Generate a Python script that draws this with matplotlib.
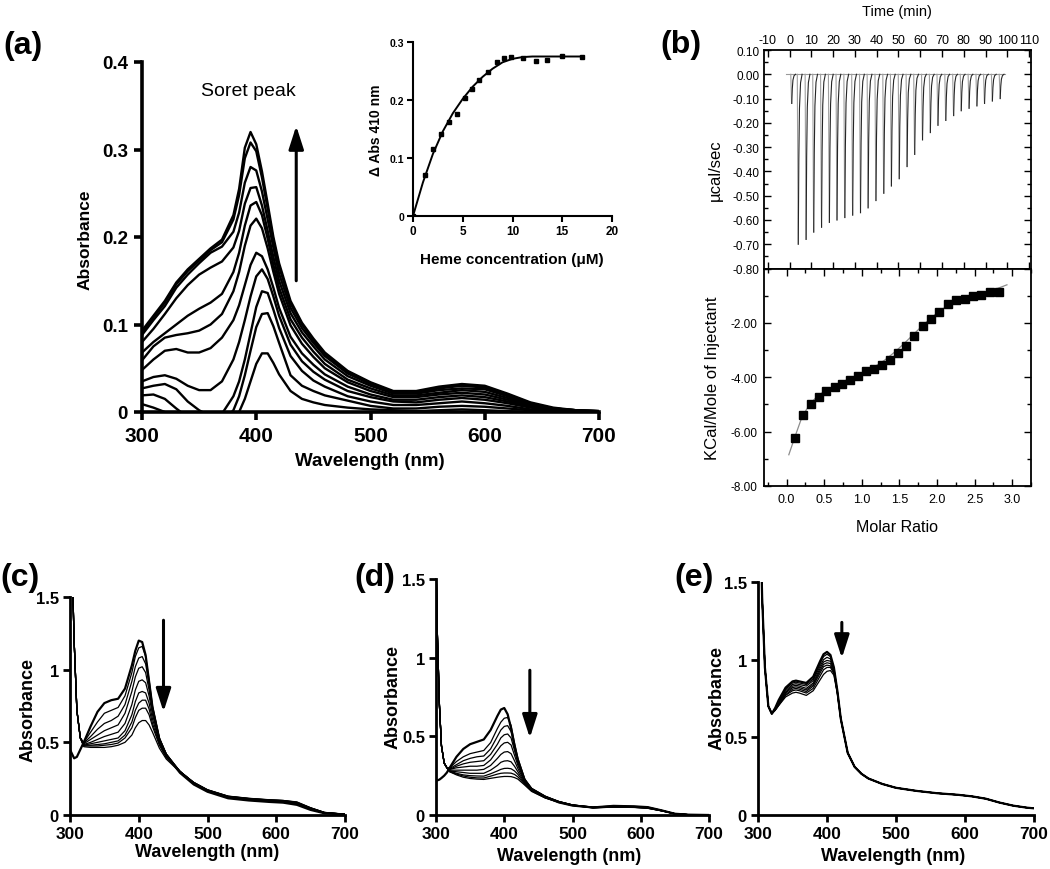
import matplotlib
matplotlib.use("Agg")
import matplotlib.pyplot as plt
from matplotlib.font_manager import FontProperties
from matplotlib.ticker import MultipleLocator

plt.rcParams['axes.unicode_minus'] = False

W, H = 1050, 870
NARROW = ['Liberation Sans Narrow', 'Liberation Sans', 'DejaVu Sans']
ARIAL = ['Liberation Sans', 'DejaVu Sans']

# ---------------- panel (a): heme titration spectra ----------------
wl_a = [300, 310, 320, 330, 340, 350, 360, 370, 380, 385, 390, 395, 400, 405, 410, 415, 420,
        430, 440, 450, 460, 480, 500, 520, 540, 560, 580, 600, 620, 640, 660, 680, 700]
a1 = [.093, .110, .127, .148, .163, .175, .187, .197, .225, .255, .302, .320, .306, .275, .238, .200, .170,
      .127, .102, .084, .068, .047, .034, .024, .024, .029, .032, .030, .021, .011, .005, .002, .001]
a2 = [.091, .108, .125, .146, .161, .173, .185, .194, .220, .248, .290, .308, .298, .268, .232, .196, .166,
      .124, .100, .082, .066, .046, .033, .023, .023, .028, .031, .029, .020, .010, .004, .002, .001]
a3 = [.088, .105, .121, .142, .157, .170, .182, .189, .206, .228, .262, .280, .276, .252, .220, .188, .158,
      .119, .096, .079, .064, .044, .032, .022, .022, .027, .030, .028, .019, .010, .004, .002, .001]
a4 = [.080, .095, .112, .130, .145, .157, .165, .172, .188, .207, .238, .256, .257, .236, .207, .177, .150,
      .113, .091, .075, .060, .041, .030, .021, .021, .025, .027, .026, .018, .009, .004, .002, .001]
a5 = [.068, .080, .090, .100, .110, .118, .125, .135, .160, .182, .213, .236, .240, .225, .198, .168, .142,
      .106, .085, .069, .055, .037, .027, .019, .019, .022, .025, .023, .016, .008, .003, .001, .000]
a6 = [.059, .075, .085, .088, .090, .093, .100, .112, .138, .160, .190, .213, .221, .210, .187, .160, .135,
      .099, .078, .063, .050, .034, .024, .017, .017, .020, .022, .020, .014, .007, .003, .001, .000]
a7 = [.048, .060, .070, .072, .068, .068, .073, .085, .105, .122, .145, .168, .182, .178, .163, .142, .119,
      .086, .067, .054, .043, .029, .020, .014, .014, .017, .019, .017, .012, .006, .002, .001, .000]
a8 = [.035, .040, .042, .038, .030, .025, .025, .035, .060, .080, .105, .132, .155, .163, .152, .132, .110,
      .077, .058, .046, .037, .024, .017, .012, .011, .014, .016, .014, .010, .005, .002, .001, .000]
a9 = [.027, .030, .032, .026, .012, .002, -.005, -.002, .018, .035, .060, .090, .120, .138, .136, .117, .096,
      .064, .047, .036, .029, .018, .012, .008, .008, .010, .012, .010, .007, .003, .001, .000, .000]
a10 = [.019, .020, .015, .004, -.006, -.012, -.015, -.012, .002, .018, .042, .070, .097, .112, .113, .098, .079,
       .042, .030, .024, .019, .013, .007, .004, .004, .006, .007, .006, .004, .002, .000, .000, .000]
a11 = [.009, .005, .000, -.008, -.015, -.020, -.022, -.020, -.010, .000, .015, .035, .055, .067, .067, .056, .043,
       .024, .015, .011, .008, .005, .003, .002, .001, .002, .003, .002, .001, .000, .000, .000, .000]
spectra_a = [a1, a2, a3, a4, a5, a6, a7, a8, a9, a10, a11]

# inset: delta A410 vs heme
heme_conc = [0, 1.2, 2.0, 2.8, 3.6, 4.4, 5.2, 5.9, 6.6, 7.5, 8.4, 9.1, 9.8, 11.1, 12.4, 13.5, 15.0, 17.0]
dabs_410 = [0.0, 0.070, 0.115, 0.141, 0.162, 0.176, 0.203, 0.219, 0.234, 0.249, 0.266, 0.273, 0.275,
            0.273, 0.267, 0.269, 0.276, 0.275]
fit_conc = [0, 1, 2, 3, 4, 5, 6, 7, 8, 9, 10, 11, 12, 14, 17]
fit_dabs = [0, 0.058, 0.107, 0.146, 0.177, 0.202, 0.223, 0.240, 0.254, 0.265, 0.271, 0.274, 0.275, 0.275, 0.275]

# ---------------- panel (b): ITC ----------------
inj_time = [0.5, 3.5, 7.1, 10.6, 14.2, 17.8, 21.3, 24.9, 28.5, 32.1, 35.6, 39.2, 42.8, 46.3, 49.9, 53.5,
            57.0, 60.6, 64.2, 67.7, 71.3, 74.9, 78.4, 82.0, 85.6, 89.1, 92.7, 96.3]
inj_peak = [-0.12, -0.70, -0.68, -0.65, -0.63, -0.61, -0.60, -0.59, -0.58, -0.57, -0.55, -0.52, -0.49,
            -0.46, -0.43, -0.38, -0.33, -0.27, -0.24, -0.21, -0.19, -0.17, -0.15, -0.14, -0.13, -0.12,
            -0.11, -0.10]
spike_dt = [0.0, 0.35, 0.45, 0.7, 1.0, 1.5, 2.2]
spike_frac = [0.0, 0.9, 1.0, 0.5, 0.2, 0.05, 0.0]
molar_ratio = [0.11, 0.22, 0.32, 0.43, 0.53, 0.64, 0.74, 0.85, 0.95, 1.06, 1.16, 1.27, 1.37, 1.48, 1.59,
               1.70, 1.81, 1.92, 2.03, 2.14, 2.25, 2.37, 2.48, 2.59, 2.71, 2.83]
kcal_mol = [-6.25, -5.38, -5.0, -4.72, -4.52, -4.35, -4.24, -4.10, -3.97, -3.76, -3.70, -3.54, -3.36,
            -3.10, -2.84, -2.48, -2.12, -1.84, -1.60, -1.31, -1.16, -1.12, -1.01, -0.98, -0.86, -0.87]
fit_ratio = [0.03, 0.11, 0.2, 0.3, 0.4, 0.5, 0.6, 0.7, 0.8, 0.9, 1.0, 1.1, 1.2, 1.3, 1.4, 1.5, 1.6, 1.7,
             1.8, 1.9, 2.0, 2.1, 2.2, 2.3, 2.4, 2.5, 2.6, 2.7, 2.8, 2.93]
fit_kcal = [-6.85, -6.2, -5.5, -5.02, -4.72, -4.52, -4.36, -4.22, -4.10, -3.98, -3.86, -3.72, -3.56,
            -3.38, -3.16, -2.92, -2.66, -2.39, -2.12, -1.87, -1.64, -1.44, -1.28, -1.17, -1.08, -1.0,
            -0.92, -0.83, -0.74, -0.60]

# ---------------- panel (c) ----------------
wl_c = [300, 303, 306, 310, 315, 320, 330, 340, 350, 360, 370, 380, 390, 395, 400, 405, 410, 415, 420,
        430, 440, 460, 480, 500, 530, 560, 590, 610, 630, 650, 670, 700]
c1 = [0.45, 0.42, 0.39, 0.40, 0.45, 0.50, 0.61, 0.71, 0.77, 0.79, 0.80, 0.87, 1.03, 1.13, 1.20, 1.19, 1.10,
      0.92, 0.74, 0.52, 0.41, 0.29, 0.21, 0.16, 0.115, 0.10, 0.09, 0.085, 0.07, 0.035, 0.012, 0.004]
c2 = [2.6, 1.75, 1.20, 0.72, 0.53, 0.50, 0.57, 0.64, 0.70, 0.72, 0.74, 0.82, 0.98, 1.09, 1.15, 1.16, 1.09,
      0.93, 0.75, 0.53, 0.42, 0.295, 0.215, 0.165, 0.12, 0.105, 0.095, 0.09, 0.075, 0.04, 0.013, 0.004]
c3 = [2.6, 1.75, 1.20, 0.72, 0.53, 0.495, 0.54, 0.59, 0.63, 0.65, 0.68, 0.76, 0.92, 1.02, 1.08, 1.09, 1.04,
      0.90, 0.74, 0.53, 0.42, 0.30, 0.22, 0.167, 0.122, 0.107, 0.097, 0.092, 0.078, 0.042, 0.014, 0.004]
c4 = [2.6, 1.75, 1.20, 0.72, 0.53, 0.49, 0.52, 0.55, 0.58, 0.60, 0.62, 0.70, 0.85, 0.95, 1.01, 1.02, 0.98,
      0.86, 0.72, 0.52, 0.42, 0.30, 0.22, 0.168, 0.124, 0.109, 0.099, 0.094, 0.080, 0.044, 0.015, 0.004]
c5 = [2.6, 1.75, 1.20, 0.72, 0.53, 0.485, 0.50, 0.52, 0.54, 0.555, 0.57, 0.63, 0.76, 0.86, 0.92, 0.93, 0.91,
      0.82, 0.69, 0.51, 0.41, 0.30, 0.22, 0.17, 0.126, 0.11, 0.10, 0.096, 0.082, 0.046, 0.016, 0.005]
c6 = [2.6, 1.75, 1.20, 0.72, 0.53, 0.48, 0.49, 0.50, 0.51, 0.52, 0.53, 0.58, 0.69, 0.78, 0.84, 0.85, 0.84,
      0.77, 0.66, 0.50, 0.405, 0.30, 0.222, 0.171, 0.127, 0.112, 0.102, 0.098, 0.084, 0.047, 0.017, 0.005]
c7 = [2.6, 1.75, 1.20, 0.72, 0.53, 0.48, 0.48, 0.485, 0.49, 0.50, 0.51, 0.55, 0.64, 0.72, 0.77, 0.79, 0.79,
      0.73, 0.63, 0.49, 0.40, 0.30, 0.223, 0.172, 0.128, 0.113, 0.103, 0.099, 0.086, 0.048, 0.017, 0.005]
c8 = [2.6, 1.75, 1.20, 0.72, 0.53, 0.475, 0.475, 0.475, 0.48, 0.485, 0.495, 0.53, 0.60, 0.67, 0.72, 0.735,
      0.735, 0.69, 0.61, 0.48, 0.395, 0.30, 0.224, 0.173, 0.129, 0.114, 0.104, 0.10, 0.088, 0.049, 0.018, 0.005]
c9 = [2.6, 1.75, 1.20, 0.72, 0.53, 0.47, 0.465, 0.465, 0.465, 0.47, 0.48, 0.50, 0.55, 0.60, 0.635, 0.65,
      0.65, 0.62, 0.57, 0.46, 0.385, 0.295, 0.225, 0.174, 0.13, 0.115, 0.105, 0.10, 0.09, 0.05, 0.018, 0.005]
spectra_c = [c1, c2, c3, c4, c5, c6, c7, c8, c9]

# ---------------- panel (d) ----------------
wl_d = [300, 302, 305, 308, 312, 316, 320, 330, 340, 350, 360, 370, 380, 390, 395, 400, 405, 410, 415,
        420, 430, 440, 460, 480, 500, 530, 560, 590, 610, 630, 650, 670, 700]
d1 = [0.22, 0.22, 0.225, 0.235, 0.25, 0.27, 0.30, 0.37, 0.42, 0.45, 0.465, 0.48, 0.54, 0.63, 0.67, 0.68,
      0.64, 0.55, 0.44, 0.35, 0.22, 0.165, 0.115, 0.08, 0.06, 0.048, 0.058, 0.055, 0.05, 0.03, 0.008, 0.002, 0.0]
d2 = [1.6, 1.15, 0.70, 0.44, 0.33, 0.30, 0.30, 0.34, 0.37, 0.39, 0.40, 0.41, 0.46, 0.55, 0.59, 0.615,
      0.62, 0.57, 0.46, 0.36, 0.23, 0.17, 0.12, 0.085, 0.064, 0.05, 0.057, 0.055, 0.05, 0.03, 0.008, 0.002, 0.0]
d3 = [1.6, 1.15, 0.70, 0.44, 0.33, 0.30, 0.295, 0.32, 0.345, 0.36, 0.37, 0.375, 0.42, 0.50, 0.54, 0.563,
      0.568, 0.53, 0.44, 0.345, 0.225, 0.168, 0.119, 0.086, 0.064, 0.05, 0.056, 0.054, 0.049, 0.03, 0.008, 0.002, 0.0]
d4 = [1.6, 1.15, 0.70, 0.44, 0.33, 0.30, 0.29, 0.31, 0.325, 0.335, 0.34, 0.345, 0.385, 0.45, 0.49, 0.51,
      0.515, 0.49, 0.41, 0.33, 0.22, 0.165, 0.117, 0.086, 0.064, 0.049, 0.055, 0.053, 0.048, 0.029, 0.008, 0.002, 0.0]
d5 = [1.6, 1.15, 0.70, 0.44, 0.33, 0.30, 0.29, 0.30, 0.305, 0.31, 0.31, 0.315, 0.35, 0.41, 0.44, 0.458,
      0.462, 0.445, 0.38, 0.315, 0.215, 0.162, 0.115, 0.085, 0.063, 0.048, 0.054, 0.052, 0.047, 0.029, 0.008, 0.002, 0.0]
d6 = [1.6, 1.15, 0.70, 0.44, 0.33, 0.30, 0.285, 0.285, 0.285, 0.285, 0.285, 0.29, 0.315, 0.36, 0.385, 0.40,
      0.403, 0.39, 0.345, 0.295, 0.21, 0.16, 0.113, 0.084, 0.063, 0.047, 0.053, 0.051, 0.046, 0.028, 0.008, 0.002, 0.0]
d7 = [1.6, 1.15, 0.70, 0.44, 0.33, 0.30, 0.28, 0.275, 0.27, 0.265, 0.265, 0.265, 0.285, 0.315, 0.335, 0.343,
      0.345, 0.338, 0.31, 0.275, 0.205, 0.157, 0.112, 0.083, 0.062, 0.047, 0.052, 0.05, 0.045, 0.028, 0.008, 0.002, 0.0]
d8 = [1.6, 1.15, 0.70, 0.44, 0.33, 0.30, 0.28, 0.265, 0.255, 0.25, 0.248, 0.247, 0.262, 0.28, 0.29, 0.296,
      0.297, 0.294, 0.28, 0.258, 0.20, 0.155, 0.11, 0.082, 0.062, 0.046, 0.051, 0.049, 0.044, 0.027, 0.008, 0.002, 0.0]
d9 = [1.6, 1.15, 0.70, 0.44, 0.33, 0.30, 0.275, 0.26, 0.248, 0.24, 0.236, 0.235, 0.247, 0.26, 0.265, 0.267,
      0.267, 0.266, 0.258, 0.242, 0.195, 0.153, 0.109, 0.081, 0.061, 0.046, 0.05, 0.049, 0.043, 0.027, 0.008, 0.002, 0.0]
d10 = [1.6, 1.15, 0.70, 0.44, 0.33, 0.30, 0.275, 0.255, 0.24, 0.232, 0.228, 0.226, 0.233, 0.24, 0.243, 0.245,
       0.245, 0.244, 0.238, 0.228, 0.19, 0.15, 0.108, 0.08, 0.06, 0.045, 0.05, 0.048, 0.043, 0.027, 0.008, 0.002, 0.0]
spectra_d = [d1, d2, d3, d4, d5, d6, d7, d8, d9, d10]

# ---------------- panel (e) ----------------
wl_e = [300, 303, 306, 310, 315, 320, 325, 330, 340, 350, 355, 360, 370, 380, 390, 395, 400, 405, 410, 415,
        420, 430, 440, 450, 460, 480, 500, 530, 560, 590, 610, 630, 650, 670, 690, 700]
e1 = [3.0, 2.0, 1.4, 0.95, 0.70, 0.652, 0.69, 0.74, 0.82, 0.86, 0.865, 0.86, 0.85, 0.89, 0.99, 1.035, 1.05, 1.03,
      0.95, 0.80, 0.62, 0.40, 0.31, 0.265, 0.235, 0.20, 0.175, 0.155, 0.14, 0.13, 0.12, 0.105, 0.08, 0.06, 0.047, 0.043]
e2 = [3.0, 2.0, 1.4, 0.95, 0.70, 0.652, 0.685, 0.73, 0.81, 0.85, 0.855, 0.85, 0.84, 0.875, 0.975, 1.02, 1.035, 1.02,
      0.945, 0.80, 0.62, 0.40, 0.31, 0.265, 0.235, 0.20, 0.175, 0.155, 0.14, 0.13, 0.12, 0.105, 0.08, 0.06, 0.047, 0.043]
e3 = [3.0, 2.0, 1.4, 0.95, 0.70, 0.652, 0.685, 0.725, 0.80, 0.84, 0.845, 0.84, 0.83, 0.865, 0.96, 1.00, 1.015, 1.005,
      0.94, 0.795, 0.62, 0.40, 0.31, 0.265, 0.235, 0.20, 0.175, 0.155, 0.14, 0.13, 0.12, 0.105, 0.08, 0.06, 0.047, 0.043]
e4 = [3.0, 2.0, 1.4, 0.95, 0.70, 0.652, 0.68, 0.72, 0.79, 0.83, 0.835, 0.83, 0.815, 0.85, 0.945, 0.985, 0.995, 0.99,
      0.935, 0.795, 0.62, 0.40, 0.31, 0.265, 0.235, 0.20, 0.175, 0.155, 0.14, 0.13, 0.12, 0.105, 0.08, 0.06, 0.047, 0.043]
e5 = [3.0, 2.0, 1.4, 0.95, 0.70, 0.652, 0.68, 0.715, 0.785, 0.82, 0.825, 0.82, 0.805, 0.84, 0.93, 0.97, 0.98, 0.975,
      0.925, 0.79, 0.62, 0.40, 0.31, 0.265, 0.235, 0.20, 0.175, 0.155, 0.14, 0.13, 0.12, 0.105, 0.08, 0.06, 0.047, 0.043]
e6 = [3.0, 2.0, 1.4, 0.95, 0.70, 0.652, 0.675, 0.71, 0.775, 0.81, 0.815, 0.81, 0.795, 0.83, 0.915, 0.955, 0.965, 0.96,
      0.92, 0.79, 0.62, 0.40, 0.31, 0.265, 0.235, 0.20, 0.175, 0.155, 0.14, 0.13, 0.12, 0.105, 0.08, 0.06, 0.047, 0.043]
e7 = [3.0, 2.0, 1.4, 0.95, 0.70, 0.652, 0.675, 0.705, 0.77, 0.80, 0.805, 0.80, 0.785, 0.815, 0.895, 0.935, 0.95, 0.95,
      0.91, 0.785, 0.62, 0.40, 0.31, 0.265, 0.235, 0.20, 0.175, 0.155, 0.14, 0.13, 0.12, 0.105, 0.08, 0.06, 0.047, 0.043]
e8 = [3.0, 2.0, 1.4, 0.95, 0.70, 0.652, 0.675, 0.705, 0.76, 0.785, 0.79, 0.785, 0.77, 0.80, 0.87, 0.905, 0.925, 0.93,
      0.90, 0.78, 0.61, 0.40, 0.31, 0.265, 0.235, 0.20, 0.175, 0.155, 0.14, 0.13, 0.12, 0.105, 0.08, 0.06, 0.047, 0.043]
spectra_e = [e1, e2, e3, e4, e5, e6, e7, e8]

wl_ticks = [300, 400, 500, 600, 700]


def box(l, t, r, b):
    return [l / W, 1 - b / H, (r - l) / W, (b - t) / H]


def ftext(x, y, s, **kw):
    fig.text(x / W, 1 - y / H, s, **kw)


def style_ticklabels(ax, fam, weight, xsize, ysize):
    for lb in ax.get_xticklabels():
        lb.set_fontproperties(FontProperties(family=fam, weight=weight, size=xsize))
    for lb in ax.get_yticklabels():
        lb.set_fontproperties(FontProperties(family=fam, weight=weight, size=ysize))


fig = plt.figure(figsize=(W / 100, H / 100), dpi=100)

# ---------------- (a) main ----------------
axA = fig.add_axes(box(142, 63, 599, 413))
for s in spectra_a:
    axA.plot(wl_a, s, color='black', lw=1.7, solid_joinstyle='round')
axA.set_xlim(300, 700)
axA.set_ylim(0, 0.4)
for sp in ['top', 'right']:
    axA.spines[sp].set_visible(False)
for sp in ['left', 'bottom']:
    axA.spines[sp].set_linewidth(2.6)
axA.set_xticks(wl_ticks)
axA.set_yticks([0, 0.1, 0.2, 0.3, 0.4])
axA.set_yticklabels(['0', '0.1', '0.2', '0.3', '0.4'])
axA.tick_params(direction='out', length=6, width=2.6, pad=4)
style_ticklabels(axA, NARROW, 'bold', 15, 13.5)
axA.annotate('', xy=(435, 0.327), xytext=(435, 0.150),
             arrowprops=dict(arrowstyle='-|>,head_length=1.4,head_width=0.45', mutation_scale=10,
                             lw=2.2, color='black', shrinkA=0, shrinkB=0))
axA.text(393, 0.367, 'Soret peak', ha='center', va='center', fontsize=14, family=NARROW)
ftext(85, 240, 'Absorbance', rotation=90, ha='center', va='center', fontsize=12.5,
      fontweight='bold', family=ARIAL)
ftext(370, 462, 'Wavelength (nm)', ha='center', va='center', fontsize=13.5, fontweight='bold', family=NARROW)

# inset
axI = fig.add_axes(box(413, 43, 612, 217))
axI.patch.set_alpha(0)
axI.plot(fit_conc, fit_dabs, color='black', lw=1.4)
axI.plot(heme_conc, dabs_410, 's', color='black', ms=3.2)
axI.set_xlim(0, 20)
axI.set_ylim(0, 0.3)
for sp in ['top', 'right']:
    axI.spines[sp].set_visible(False)
for sp in ['left', 'bottom']:
    axI.spines[sp].set_linewidth(1.5)
axI.set_xticks([0, 5, 10, 15, 20])
axI.set_yticks([0, 0.1, 0.2, 0.3])
axI.set_yticklabels(['0', '0.1', '0.2', '0.3'])
axI.tick_params(direction='out', length=4, width=1.5, pad=2.5)
style_ticklabels(axI, NARROW, 'bold', 8.5, 7.5)
ftext(376, 130, 'Δ Abs 410 nm', rotation=90, ha='center', va='center', fontsize=10,
      fontweight='bold', family=ARIAL)
ftext(512, 260, 'Heme concentration (μM)', ha='center', va='center', fontsize=11,
      fontweight='bold', family=NARROW)

# ---------------- (b) ITC ----------------
axT = fig.add_axes(box(764, 51, 1031, 269.5))
axT.plot([-1.5, 98.9], [0, 0], color='#9a9a9a', lw=0.8)
for t0, pk in zip(inj_time, inj_peak):
    xs = [t0 + d for d in spike_dt]
    ys = [pk * f for f in spike_frac]
    axT.plot(xs[:3], ys[:3], color='#a0a0a0', lw=0.8)
    axT.plot(xs[2:], ys[2:], color='#252525', lw=0.8)
axT.set_xlim(-11.8, 110.9)
axT.set_ylim(-0.8, 0.1)
axT.xaxis.tick_top()
axT.set_xticks(list(range(-10, 111, 10)))
axT.set_yticks([0.1, 0.0, -0.1, -0.2, -0.3, -0.4, -0.5, -0.6, -0.7, -0.8])
axT.set_yticklabels(['%.2f' % v for v in [0.1, 0.0, -0.1, -0.2, -0.3, -0.4, -0.5, -0.6, -0.7, -0.8]])
axT.yaxis.set_minor_locator(MultipleLocator(0.05))
axT.tick_params(which='both', direction='in', top=True, bottom=True, left=True, right=True,
                labelbottom=False, labeltop=True, width=1.0)
axT.tick_params(which='major', length=5, pad=3)
axT.tick_params(which='minor', length=3)
for sp in axT.spines.values():
    sp.set_linewidth(1.3)
style_ticklabels(axT, ARIAL, 'normal', 9, 8.5)
ftext(897, 12, 'Time (min)', ha='center', va='center', fontsize=10.5, family=ARIAL)
ftext(715, 170, 'µcal/sec', rotation=90, ha='center', va='center', fontsize=12, family=ARIAL)

axB = fig.add_axes(box(764, 269.5, 1031, 487))
axB.plot(fit_ratio, fit_kcal, color='#8c8c8c', lw=0.9)
axB.plot(molar_ratio, kcal_mol, 's', color='black', ms=5.3)
axB.set_xlim(-0.3, 3.25)
axB.set_ylim(-8, 0)
axB.set_xticks([0, 0.5, 1.0, 1.5, 2.0, 2.5, 3.0])
axB.set_xticklabels(['%.1f' % v for v in [0, 0.5, 1.0, 1.5, 2.0, 2.5, 3.0]])
axB.xaxis.set_minor_locator(MultipleLocator(0.25))
axB.set_yticks([-8, -6, -4, -2, 0])
axB.set_yticklabels(['-8.00', '-6.00', '-4.00', '-2.00', ''])
axB.yaxis.set_minor_locator(MultipleLocator(1))
axB.tick_params(which='both', direction='in', top=True, bottom=True, left=True, right=True, width=1.0)
axB.tick_params(which='major', length=5, pad=5)
axB.tick_params(which='minor', length=3)
for sp in axB.spines.values():
    sp.set_linewidth(1.3)
style_ticklabels(axB, ARIAL, 'normal', 9, 8.5)
ftext(897, 527, 'Molar Ratio', ha='center', va='center', fontsize=11.5, family=ARIAL)
ftext(713, 378, 'KCal/Mole of Injectant', rotation=90, ha='center', va='center', fontsize=12, family=ARIAL)


# ---------------- (c), (d), (e) ----------------
def spectra_panel(rect, wl, spectra, arrow_x, arrow_top, arrow_tip, ylab_xy, xlab_xy):
    ax = fig.add_axes(rect)
    for i, s in enumerate(spectra):
        ax.plot(wl, s, color='black', lw=1.6 if i == 0 else 0.9)
    ax.set_xlim(300, 700)
    ax.set_ylim(0, 1.5)
    for sp in ['top', 'right']:
        ax.spines[sp].set_visible(False)
    for sp in ['left', 'bottom']:
        ax.spines[sp].set_linewidth(2.0)
    ax.set_xticks(wl_ticks)
    ax.set_yticks([0, 0.5, 1.0, 1.5])
    ax.set_yticklabels(['0', '0.5', '1', '1.5'])
    ax.tick_params(direction='out', length=5, width=2.0, pad=3)
    style_ticklabels(ax, ARIAL, 'bold', 12.5, 12)
    ax.annotate('', xy=(arrow_x, arrow_tip), xytext=(arrow_x, arrow_top),
                arrowprops=dict(arrowstyle='-|>,head_length=1.4,head_width=0.45', mutation_scale=10,
                                lw=2.2, color='black', shrinkA=0, shrinkB=0))
    ftext(ylab_xy[0], ylab_xy[1], 'Absorbance', rotation=90, ha='center', va='center', fontsize=13,
          fontweight='bold', family=ARIAL)
    ftext(xlab_xy[0], xlab_xy[1], 'Wavelength (nm)', ha='center', va='center', fontsize=13,
          fontweight='bold', family=ARIAL)
    return ax


spectra_panel(box(70, 598, 345, 816), wl_c, spectra_c, 436, 1.34, 0.71, (28, 710), (207, 853))
spectra_panel(box(436, 580, 709, 816), wl_d, spectra_d, 437.5, 0.92, 0.49, (393, 697), (569, 857))
spectra_panel(box(758, 583, 1034, 816), wl_e, spectra_e, 421.5, 1.24, 1.01, (717, 698), (893, 857))

# panel letters
for lbl, x, y in [('(a)', 23, 46), ('(b)', 681, 45), ('(c)', 20, 578), ('(d)', 375, 578), ('(e)', 694, 578)]:
    ftext(x, y, lbl, ha='center', va='center', fontsize=23, fontweight='bold', family=ARIAL)

fig.savefig('out.png', dpi=100)
